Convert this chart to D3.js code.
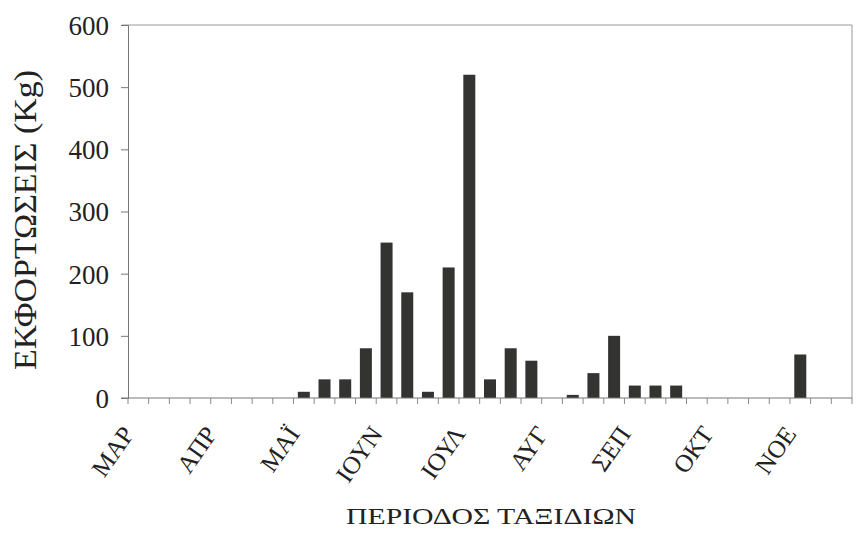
<!DOCTYPE html>
<html>
<head>
<meta charset="utf-8">
<script src="https://cdn.jsdelivr.net/npm/d3@7"></script>
<style>
  body { margin: 0; background: #fff; }
  svg text { font-family: "Liberation Serif", "Times New Roman", serif; fill: #222; }
</style>
</head>
<body>
<div id="chart"></div>
<script>
// Εκφορτώσεις ανά περίοδο (35 κατηγορίες, ετικέτα κάθε 4η)
const periods = d3.range(35);
const landings = [0, 0, 0, 0, 0, 0, 0, 0, 10, 30, 30, 80, 250, 170, 10, 210, 520, 30, 80, 60,
                  0, 5, 40, 100, 20, 20, 20, 0, 0, 0, 0, 0, 70, 0, 0];
const monthLabels = ['ΜΑΡ', 'ΑΠΡ', 'ΜΑΪ', 'ΙΟΥΝ', 'ΙΟΥΛ', 'ΑΥΓ', 'ΣΕΠ', 'ΟΚΤ', 'ΝΟΕ'];
const yTicks = [0, 100, 200, 300, 400, 500, 600];

const W = 865, H = 535;
const margin = { top: 25, right: 13, bottom: 137, left: 128 };
const width = W - margin.left - margin.right;
const height = H - margin.top - margin.bottom;

const svg = d3.select('#chart').append('svg')
    .attr('width', W)
    .attr('height', H);

const g = svg.append('g')
    .attr('transform', `translate(${margin.left},${margin.top})`);

const x = d3.scaleBand()
    .domain(periods)
    .range([0, width])
    .paddingInner(0.42)
    .paddingOuter(0.21);

const y = d3.scaleLinear()
    .domain([0, 600])
    .range([height, 0]);

// Πλαίσιο (πάνω και δεξιά)
g.append('path')
    .attr('d', `M-6,0H${width}V${height}`)
    .attr('fill', 'none')
    .attr('stroke', '#999')
    .attr('stroke-width', 1);

// Ράβδοι
g.selectAll('.bar')
    .data(landings.map((v, i) => ({ i, v })).filter(d => d.v > 0))
    .enter()
    .append('rect')
    .attr('class', 'bar')
    .attr('x', d => x(d.i))
    .attr('y', d => y(d.v))
    .attr('width', x.bandwidth())
    .attr('height', d => y(0) - y(d.v))
    .attr('fill', '#333331');

// Άξονας Υ
const yAxis = g.append('g')
    .call(d3.axisLeft(y).tickValues(yTicks).tickSize(7).tickPadding(12));
yAxis.select('.domain').attr('stroke', '#777');
yAxis.selectAll('line').attr('stroke', '#777');
yAxis.selectAll('text')
    .style('font-size', '27px')
    .attr('dy', '0.35em');

// Άξονας Χ: γραμμή και υποδιαιρέσεις στα όρια κατηγοριών
const step = width / periods.length;
g.append('line')
    .attr('x1', -7).attr('x2', width)
    .attr('y1', height).attr('y2', height)
    .attr('stroke', '#777');

g.selectAll('.xtick')
    .data(d3.range(periods.length + 1))
    .enter()
    .append('line')
    .attr('class', 'xtick')
    .attr('x1', d => d * step).attr('x2', d => d * step)
    .attr('y1', height).attr('y2', height + 6)
    .attr('stroke', '#888');

// Ετικέτες μηνών (κάθε 4 κατηγορίες)
g.selectAll('.mlabel')
    .data(monthLabels)
    .enter()
    .append('text')
    .attr('class', 'mlabel')
    .attr('transform', (d, k) => `translate(${x(k * 4) + x.bandwidth() / 2 - 3},${height + 36}) rotate(-55)`)
    .attr('text-anchor', 'end')
    .style('font-size', '25px')
    .text(d => d);

// Τίτλοι αξόνων
svg.append('text')
    .attr('x', 491)
    .attr('y', 524)
    .attr('text-anchor', 'middle')
    .attr('textLength', 290)
    .attr('lengthAdjust', 'spacingAndGlyphs')
    .style('font-size', '24px')
    .text('ΠΕΡΙΟΔΟΣ ΤΑΞΙΔΙΩΝ');

svg.append('text')
    .attr('transform', 'translate(36,220) rotate(-90)')
    .attr('text-anchor', 'middle')
    .attr('textLength', 300)
    .attr('lengthAdjust', 'spacingAndGlyphs')
    .style('font-size', '32px')
    .text('ΕΚΦΟΡΤΩΣΕΙΣ (Kg)');
</script>
</body>
</html>
